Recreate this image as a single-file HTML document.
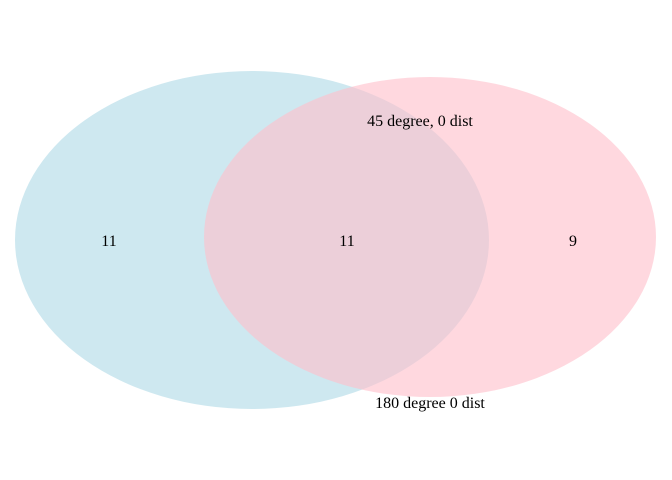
<!DOCTYPE html>
<html><head><meta charset="utf-8"><style>body{margin:0;background:#fff}svg{display:block}text{font-family:"Liberation Serif",serif;font-size:16px;fill:#000}</style></head>
<body>
<svg id="chart" width="672" height="480" viewBox="0 0 672 480">
<g id="sets"></g><g id="labels"></g>
</svg>
<script>
const setNames = ["set-a", "set-b"];
const setColors = ["#add8e6", "#ffc0cb"];
const setOpacity = [0.6, 0.62];
const regionCounts = [11, 11, 9];
const annotations = ["45 degree, 0 dist", "180 degree 0 dist"];
const ns = "http://www.w3.org/2000/svg";
const ellipses = [{cx:252,cy:240,rx:237,ry:169},{cx:430,cy:237,rx:226,ry:160}];
const g = document.getElementById('sets');
ellipses.forEach((e,i)=>{
  const el = document.createElementNS(ns,'ellipse');
  el.setAttribute('cx',e.cx);el.setAttribute('cy',e.cy);el.setAttribute('rx',e.rx);el.setAttribute('ry',e.ry);
  el.setAttribute('fill',setColors[i]);el.setAttribute('fill-opacity',setOpacity[i]);
  
  
  g.appendChild(el);
});
const lg = document.getElementById('labels');
const countPos = [[109,246],[347,246],[573,246]];
const countNames = ["only-a-count","intersection-count","only-b-count"];
regionCounts.forEach((c,i)=>{
  const t = document.createElementNS(ns,'text');
  t.setAttribute('x',countPos[i][0]);t.setAttribute('y',countPos[i][1]);t.setAttribute('text-anchor','middle');
  t.textContent = c;
  
  
  lg.appendChild(t);
});
const annPos = [[420,126],[430,408]];
const annNames = ["annotation-45-degree","annotation-180-degree"];
annotations.forEach((a,i)=>{
  const t = document.createElementNS(ns,'text');
  t.setAttribute('x',annPos[i][0]);t.setAttribute('y',annPos[i][1]);t.setAttribute('text-anchor','middle');
  t.textContent = a;
  
  
  lg.appendChild(t);
});
</script>
</body></html>
